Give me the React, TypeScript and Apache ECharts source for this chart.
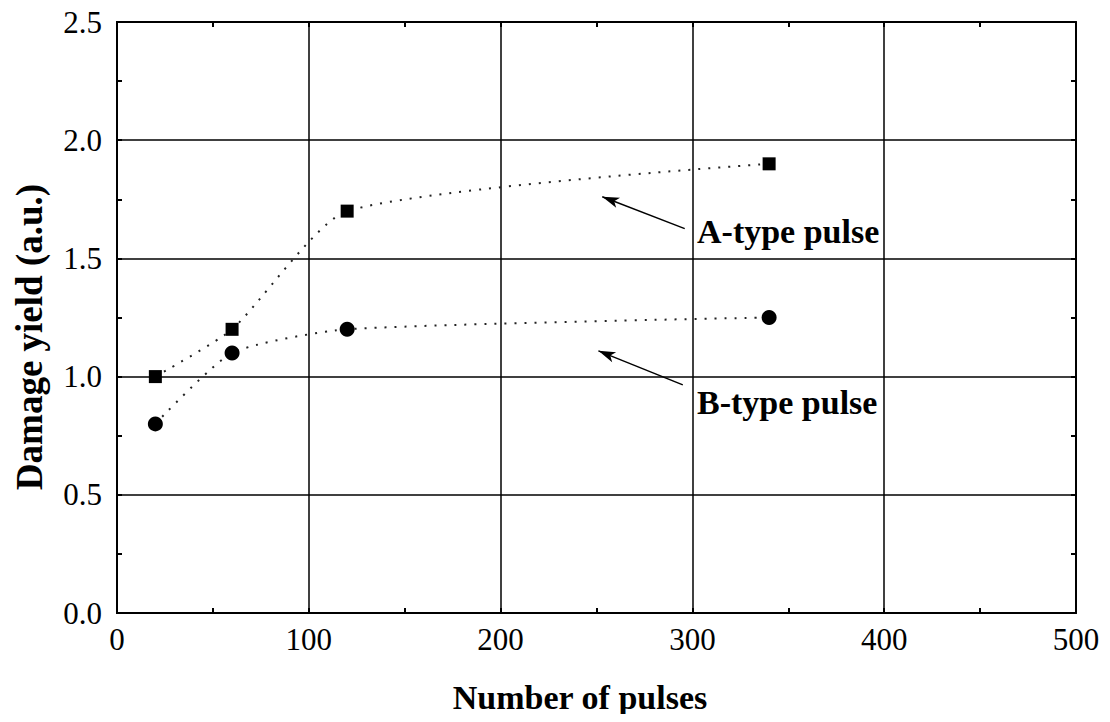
import React, { useEffect, useRef } from "react";
import * as echarts from "echarts";

const pulses = [20, 60, 120, 340];
const aType = [1.0, 1.2, 1.7, 1.9];
const bType = [0.8, 1.1, 1.2, 1.25];
const xTicks = [0, 100, 200, 300, 400, 500];
const yTicks = [0, 0.5, 1.0, 1.5, 2.0, 2.5];
const arrowA = [[296, 1.626], [253, 1.761]];
const arrowB = [[295, 0.965], [251, 1.109]];
const labelA = "A-type pulse";
const labelB = "B-type pulse";
const xTitle = "Number of pulses";
const yTitle = "Damage yield (a.u.)";

const FONT = "'Liberation Serif', 'Times New Roman', serif";

export default function App() {
  const ref = useRef<HTMLDivElement>(null);
  useEffect(() => {
    if (!ref.current) return;
    const chart = echarts.init(ref.current, undefined, { renderer: "svg" });
    const gridBox = { left: 117, right: 34, top: 22, bottom: 109 };
    const xMin = xTicks[0];
    const xMax = xTicks[xTicks.length - 1];
    const yMin = yTicks[0];
    const yMax = yTicks[yTicks.length - 1];
    const tickAxis = (position: string, min: number, max: number, interval: number) => ({
      type: "value",
      gridIndex: 1,
      position,
      min,
      max,
      interval,
      axisLine: { show: true, onZero: false, lineStyle: { color: "#000", width: 2 } },
      axisTick: { show: true, inside: true, length: 5, lineStyle: { color: "#000", width: 2 } },
      axisLabel: { show: false },
      splitLine: { show: false },
    });
    const mkSeries = (name: string, vals: number[], symbol: string, size: number, arrow: number[][]) => ({
      name,
      type: "line",
      xAxisIndex: 0,
      yAxisIndex: 0,
      data: pulses.map((p, i) => [p, vals[i]]),
      smooth: 0.2,
      symbol,
      symbolSize: size,
      showAllSymbol: true,
      itemStyle: { color: "#000" },
      lineStyle: { color: "#222", width: 2, type: [2, 8] },
      markLine: {
        silent: true,
        label: { show: false },
        lineStyle: { color: "#000", width: 1.5, type: "solid" },
        symbol: ["none", "arrow"],
        symbolSize: [8, 17],
        data: [[{ coord: arrow[0] }, { coord: arrow[1] }]],
      },
    });
    chart.setOption({
      animation: false,
      backgroundColor: "#fff",
      grid: [gridBox, gridBox],
      xAxis: [
        {
          type: "value",
          gridIndex: 0,
          min: xMin,
          max: xMax,
          interval: 100,
          axisLine: { show: true, onZero: false, lineStyle: { color: "#000", width: 2 } },
          axisTick: { show: false },
          splitLine: { show: true, lineStyle: { color: "#000", width: 1.5 } },
          axisLabel: { color: "#000", fontFamily: FONT, fontSize: 31, margin: 11 },
        },
        tickAxis("bottom", xMin, xMax, 50),
        tickAxis("top", xMin, xMax, 50),
      ],
      yAxis: [
        {
          type: "value",
          gridIndex: 0,
          min: yMin,
          max: yMax,
          interval: 0.5,
          axisLine: { show: true, onZero: false, lineStyle: { color: "#000", width: 2 } },
          axisTick: { show: false },
          splitLine: { show: true, lineStyle: { color: "#000", width: 1.5 } },
          axisLabel: {
            color: "#000",
            fontFamily: FONT,
            fontSize: 31,
            margin: 15,
            formatter: (v: number) => v.toFixed(1),
          },
        },
        tickAxis("left", yMin, yMax, 0.25),
        tickAxis("right", yMin, yMax, 0.25),
      ],
      series: [
        mkSeries("A", aType, "rect", 13, arrowA),
        mkSeries("B", bType, "circle", 15, arrowB),
      ],
      graphic: [
        {
          type: "text",
          x: 697,
          y: 231,
          style: { text: labelA, fill: "#000", font: `bold 34px ${FONT}`, verticalAlign: "middle" },
        },
        {
          type: "text",
          x: 697,
          y: 402,
          style: { text: labelB, fill: "#000", font: `bold 34px ${FONT}`, verticalAlign: "middle" },
        },
        {
          type: "text",
          x: 580,
          y: 697,
          style: { text: xTitle, fill: "#000", font: `bold 34px ${FONT}`, align: "center", verticalAlign: "middle" },
        },
        {
          type: "text",
          x: 29,
          y: 337,
          rotation: Math.PI / 2,
          style: { text: yTitle, fill: "#000", font: `bold 37px ${FONT}`, align: "center", verticalAlign: "middle" },
        },
      ],
    });
    return () => chart.dispose();
  }, []);
  return <div ref={ref} style={{ width: 1110, height: 722, margin: -8 }} />;
}
